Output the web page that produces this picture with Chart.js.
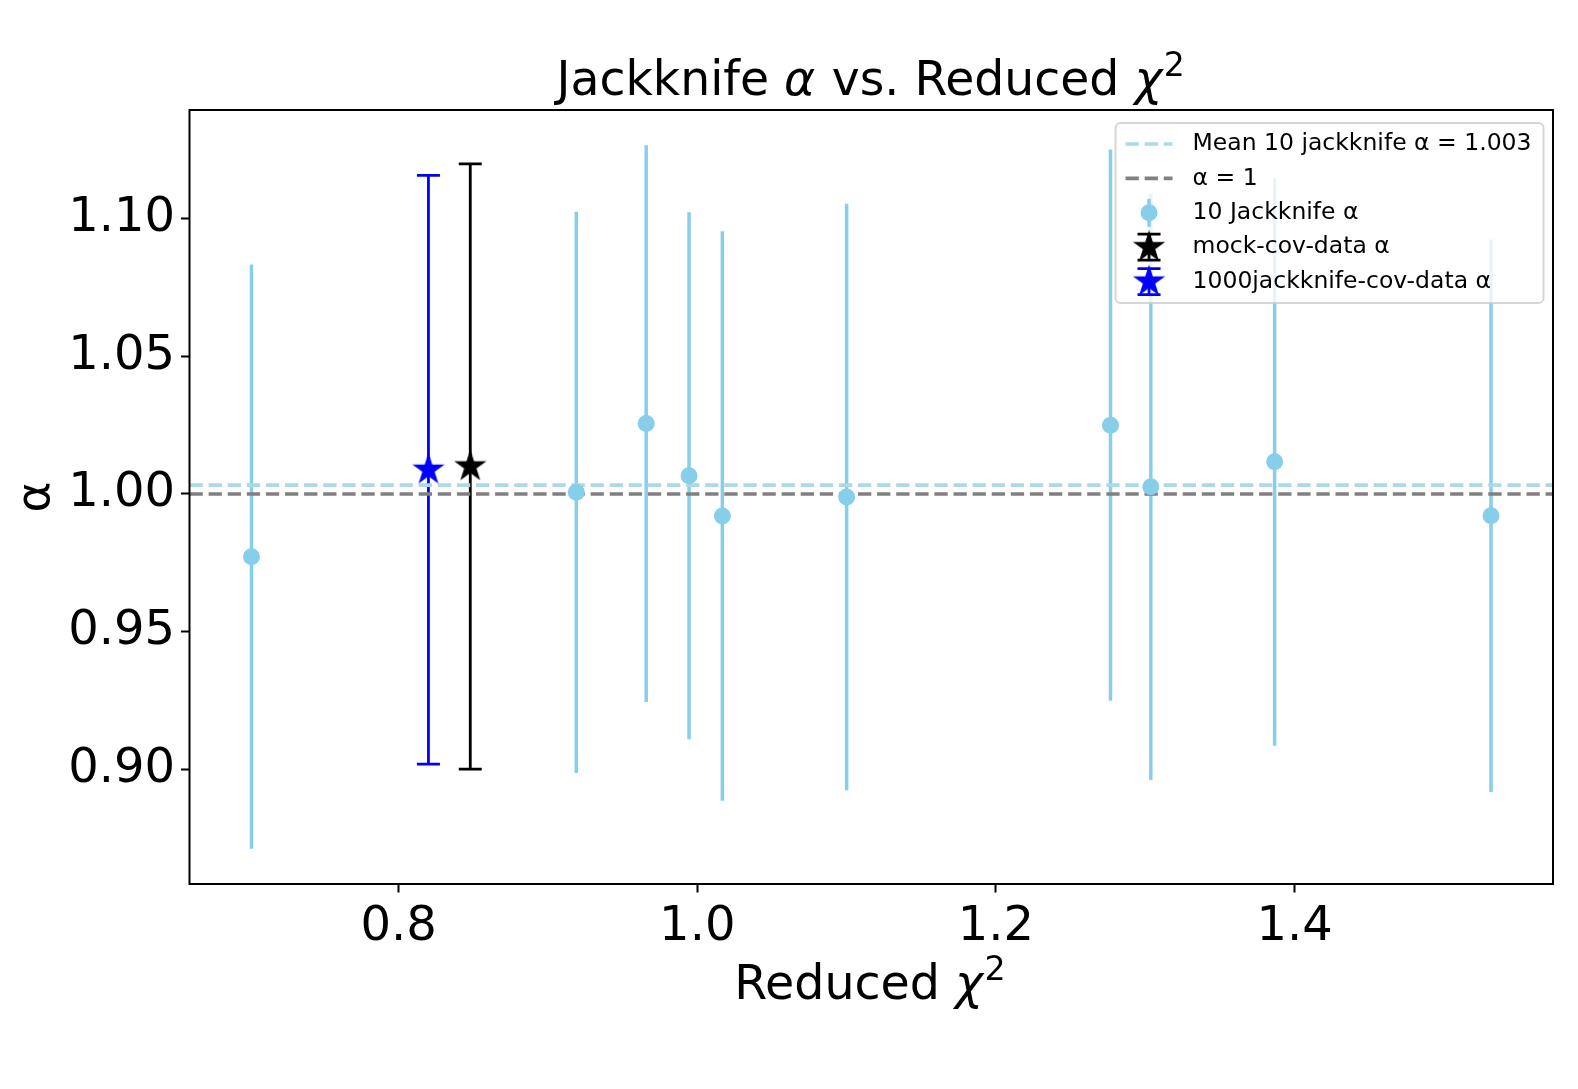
<!DOCTYPE html>
<html>
<head>
<meta charset="utf-8">
<title>Jackknife alpha vs. Reduced chi2</title>
<script src="https://cdn.jsdelivr.net/npm/chart.js@4.4.1/dist/chart.umd.min.js"></script>
<style>
    html, body { margin: 0; padding: 0; background: #ffffff; }
    canvas { display: block; }
</style>
</head>
<body>
<canvas id="alphaChart" width="1578" height="1089" style="width:1578px;height:1089px"></canvas>
<script>
// 10 jackknife realisations: reduced chi2, alpha and its 1-sigma error
const jkChi2  = [0.7015, 0.9190, 0.9658, 0.9945, 1.0168, 1.1000, 1.2767, 1.3037, 1.3866, 1.5315];
const jkAlpha = [0.9772, 1.0006, 1.0256, 1.0066, 0.9920, 0.9989, 1.0250, 1.0026, 1.0117, 0.9921];
const jkErr   = [0.1062, 0.1020, 0.1012, 0.0958, 0.1035, 0.1066, 0.1002, 0.1066, 0.1032, 0.1004];

// fit with mock covariance
const mockChi2  = [0.848];
const mockAlpha = [1.010];
const mockErr   = [0.110];

// fit with 1000-jackknife covariance
const jk1000Chi2  = [0.820];
const jk1000Alpha = [1.0088];
const jk1000Err   = [0.107];

const referenceAlpha = 1;

const xTicks = [0.8, 1.0, 1.2, 1.4];
const yTicks = [0.90, 0.95, 1.00, 1.05, 1.10];

const FONT = '"DejaVu Sans", sans-serif';
const SKY = '#87ceeb';
const LIGHT = '#add8e6';
const GREY = '#808080';
const DASH = [13.3, 5.8];

const meanAlpha = jkAlpha.reduce((a, b) => a + b, 0) / jkAlpha.length;

const legendLabels = [
    'Mean 10 jackknife α = ' + meanAlpha.toFixed(3),
    'α = ' + referenceAlpha,
    '10 Jackknife α',
    'mock-cov-data α',
    '1000jackknife-cov-data α'
];

// axis limits with 5% margins like matplotlib's autoscale
const allX = jkChi2.concat(mockChi2, jk1000Chi2);
const allLow = jkAlpha.map((a, i) => a - jkErr[i])
    .concat(mockAlpha.map((a, i) => a - mockErr[i]), jk1000Alpha.map((a, i) => a - jk1000Err[i]));
const allHigh = jkAlpha.map((a, i) => a + jkErr[i])
    .concat(mockAlpha.map((a, i) => a + mockErr[i]), jk1000Alpha.map((a, i) => a + jk1000Err[i]));
const xSpan = Math.max(...allX) - Math.min(...allX);
const xMin = Math.min(...allX) - 0.05 * xSpan;
const xMax = Math.max(...allX) + 0.05 * xSpan;
const ySpan = Math.max(...allHigh) - Math.min(...allLow);
const yMin = Math.min(...allLow) - 0.05 * ySpan;
const yMax = Math.max(...allHigh) + 0.05 * ySpan;

function toPoints(xs, ys) {
    return xs.map((v, i) => ({ x: v, y: ys[i] }));
}

function makeStar(color, r) {
    const size = Math.ceil(r * 2 + 4);
    const c = document.createElement('canvas');
    c.width = size;
    c.height = size;
    const g = c.getContext('2d');
    g.translate(size / 2, size / 2);
    g.beginPath();
    for (let k = 0; k < 10; k++) {
        const ang = -Math.PI / 2 + k * Math.PI / 5;
        const rad = k % 2 ? r * 0.382 : r;
        g.lineTo(rad * Math.cos(ang), rad * Math.sin(ang));
    }
    g.closePath();
    g.fillStyle = color;
    g.fill();
    g.lineJoin = 'miter';
    g.lineWidth = 1.2;
    g.strokeStyle = color;
    g.stroke();
    return c;
}

const blackStar = makeStar('#000000', 15);
const blueStar = makeStar('#0000ff', 15);

// vertical error bars, drawn under everything else
const errorBarPlugin = {
    id: 'errorBars',
    beforeDatasetsDraw(chart) {
        const { ctx, scales: { x, y } } = chart;
        chart.data.datasets.forEach(ds => {
            if (!ds.errors) return;
            ctx.save();
            ctx.strokeStyle = ds.errColor;
            ctx.lineWidth = ds.errWidth;
            ds.data.forEach((p, i) => {
                const px = x.getPixelForValue(p.x);
                const top = y.getPixelForValue(p.y + ds.errors[i]);
                const bot = y.getPixelForValue(p.y - ds.errors[i]);
                ctx.beginPath();
                ctx.moveTo(px, top);
                ctx.lineTo(px, bot);
                if (ds.capSize) {
                    ctx.moveTo(px - ds.capSize, top);
                    ctx.lineTo(px + ds.capSize, top);
                    ctx.moveTo(px - ds.capSize, bot);
                    ctx.lineTo(px + ds.capSize, bot);
                }
                ctx.stroke();
            });
            ctx.restore();
        });
    }
};

function drawRich(ctx, parts, cx, baseline, size) {
    const fontFor = p => (p.it ? 'italic ' : '') + (p.sup ? size * 0.7 : size) + 'px ' + FONT;
    let total = 0;
    parts.forEach(p => {
        ctx.font = fontFor(p);
        p.w = ctx.measureText(p.t).width;
        total += p.w;
    });
    let xPos = cx - total / 2;
    ctx.textAlign = 'left';
    ctx.textBaseline = 'alphabetic';
    parts.forEach(p => {
        ctx.font = fontFor(p);
        ctx.fillText(p.t, xPos, baseline - (p.sup ? size * 0.4 : 0));
        xPos += p.w + (p.it ? size * 0.03 : 0);
    });
}

// frame, titles and the in-axes legend
const decorPlugin = {
    id: 'decor',
    afterDraw(chart) {
        const { ctx, chartArea: area } = chart;
        const cx = (area.left + area.right) / 2;
        ctx.save();

        // axes frame
        ctx.strokeStyle = '#000000';
        ctx.lineWidth = 2;
        ctx.strokeRect(area.left, area.top, area.right - area.left, area.bottom - area.top);

        // title and axis labels
        ctx.fillStyle = '#000000';
        drawRich(ctx, [
            { t: 'Jackknife ' }, { t: 'α', it: true }, { t: ' vs. Reduced ' },
            { t: 'χ', it: true }, { t: '2', sup: true }
        ], cx - 2, area.top - 15, 47.3);
        drawRich(ctx, [{ t: 'Reduced ' }, { t: 'χ', it: true }, { t: '2', sup: true }],
            cx - 2, area.bottom + 115, 47.5);

        ctx.save();
        ctx.translate(49, (area.top + area.bottom) / 2);
        ctx.rotate(-Math.PI / 2);
        ctx.font = '47px ' + FONT;
        ctx.textAlign = 'center';
        ctx.textBaseline = 'alphabetic';
        ctx.fillText('α', 0, 0);
        ctx.restore();

        // legend
        const fs = 23.5;
        ctx.font = fs + 'px ' + FONT;
        const textW = Math.max(...legendLabels.map(t => ctx.measureText(t).width));
        const boxRight = area.right - 9.5;
        const boxTop = area.top + 13;
        const boxLeft = boxRight - (77 + textW + 12);
        const rowGap = 34.4;
        const boxH = 180;
        ctx.beginPath();
        if (ctx.roundRect) ctx.roundRect(boxLeft, boxTop, boxRight - boxLeft, boxH, 5);
        else ctx.rect(boxLeft, boxTop, boxRight - boxLeft, boxH);
        ctx.fillStyle = 'rgba(255,255,255,0.8)';
        ctx.fill();
        ctx.strokeStyle = 'rgba(204,204,204,0.8)';
        ctx.lineWidth = 2;
        ctx.stroke();

        const h0 = boxLeft + 10;
        const h1 = boxLeft + 57;
        const hm = (h0 + h1) / 2;
        const textX = boxLeft + 77;
        legendLabels.forEach((label, i) => {
            const ry = boxTop + 21 + i * rowGap;
            ctx.save();
            if (i < 2) {
                ctx.strokeStyle = i === 0 ? LIGHT : GREY;
                ctx.lineWidth = 3.6;
                ctx.setLineDash(DASH);
                ctx.beginPath();
                ctx.moveTo(h0, ry);
                ctx.lineTo(h1, ry);
                ctx.stroke();
            } else if (i === 2) {
                ctx.strokeStyle = SKY;
                ctx.lineWidth = 3.5;
                ctx.beginPath();
                ctx.moveTo(hm, ry - 14);
                ctx.lineTo(hm, ry + 14);
                ctx.stroke();
                ctx.fillStyle = SKY;
                ctx.beginPath();
                ctx.arc(hm, ry, 8.5, 0, Math.PI * 2);
                ctx.fill();
            } else {
                const col = i === 3 ? '#000000' : '#0000ff';
                ctx.strokeStyle = col;
                ctx.lineWidth = 2.8;
                ctx.beginPath();
                ctx.moveTo(hm, ry - 13);
                ctx.lineTo(hm, ry + 13);
                ctx.moveTo(hm - 11.5, ry - 13);
                ctx.lineTo(hm + 11.5, ry - 13);
                ctx.moveTo(hm - 11.5, ry + 13);
                ctx.lineTo(hm + 11.5, ry + 13);
                ctx.stroke();
                const img = i === 3 ? blackStar : blueStar;
                ctx.drawImage(img, hm - img.width / 2, ry - img.height / 2);
            }
            ctx.restore();
            ctx.fillStyle = '#000000';
            ctx.font = fs + 'px ' + FONT;
            ctx.textAlign = 'left';
            ctx.textBaseline = 'middle';
            ctx.fillText(label, textX, ry);
        });
        ctx.restore();
    }
};

const ctx = document.getElementById('alphaChart').getContext('2d');
window.alphaChart = new Chart(ctx, {
    type: 'scatter',
    data: {
        datasets: [
            {
                label: legendLabels[4],
                data: toPoints(jk1000Chi2, jk1000Alpha),
                errors: jk1000Err,
                errColor: '#0000ff',
                errWidth: 2.8,
                capSize: 11.5,
                pointStyle: blueStar,
                pointRadius: 15
            },
            {
                label: legendLabels[3],
                data: toPoints(mockChi2, mockAlpha),
                errors: mockErr,
                errColor: '#000000',
                errWidth: 2.8,
                capSize: 11.5,
                pointStyle: blackStar,
                pointRadius: 15
            },
            {
                label: legendLabels[2],
                data: toPoints(jkChi2, jkAlpha),
                errors: jkErr,
                errColor: SKY,
                errWidth: 3.5,
                capSize: 0,
                pointStyle: 'circle',
                pointRadius: 8.5,
                backgroundColor: SKY,
                borderWidth: 0
            },
            {
                type: 'line',
                label: legendLabels[1],
                data: [{ x: xMin, y: referenceAlpha }, { x: xMax, y: referenceAlpha }],
                borderColor: GREY,
                borderWidth: 3.6,
                borderDash: DASH,
                pointRadius: 0,
                fill: false
            },
            {
                type: 'line',
                label: legendLabels[0],
                data: [{ x: xMin, y: meanAlpha }, { x: xMax, y: meanAlpha }],
                borderColor: LIGHT,
                borderWidth: 3.6,
                borderDash: DASH,
                pointRadius: 0,
                fill: false
            }
        ]
    },
    options: {
        responsive: false,
        devicePixelRatio: 1,
        animation: false,
        layout: {
            padding: { top: 110, right: 25, left: 0, bottom: 0 }
        },
        plugins: {
            legend: { display: false },
            tooltip: { enabled: false },
            title: { display: false }
        },
        scales: {
            x: {
                type: 'linear',
                min: xMin,
                max: xMax,
                afterFit: scale => { scale.height = 205; },
                afterBuildTicks: scale => { scale.ticks = xTicks.map(v => ({ value: v })); },
                border: { display: false },
                grid: {
                    drawOnChartArea: false,
                    drawTicks: true,
                    tickLength: 8.5,
                    tickWidth: 2,
                    tickColor: '#000000'
                },
                ticks: {
                    autoSkip: false,
                    maxRotation: 0,
                    padding: 6,
                    color: '#000000',
                    font: { family: FONT, size: 48 },
                    callback: value => Number(value).toFixed(1)
                }
            },
            y: {
                type: 'linear',
                min: yMin,
                max: yMax,
                afterFit: scale => { scale.width = 189.5; },
                afterBuildTicks: scale => { scale.ticks = yTicks.map(v => ({ value: v })); },
                border: { display: false },
                grid: {
                    drawOnChartArea: false,
                    drawTicks: true,
                    tickLength: 8.5,
                    tickWidth: 2,
                    tickColor: '#000000'
                },
                ticks: {
                    autoSkip: false,
                    padding: 6,
                    color: '#000000',
                    font: { family: FONT, size: 48 },
                    callback: value => Number(value).toFixed(2)
                }
            }
        }
    },
    plugins: [errorBarPlugin, decorPlugin]
});
</script>
</body>
</html>
